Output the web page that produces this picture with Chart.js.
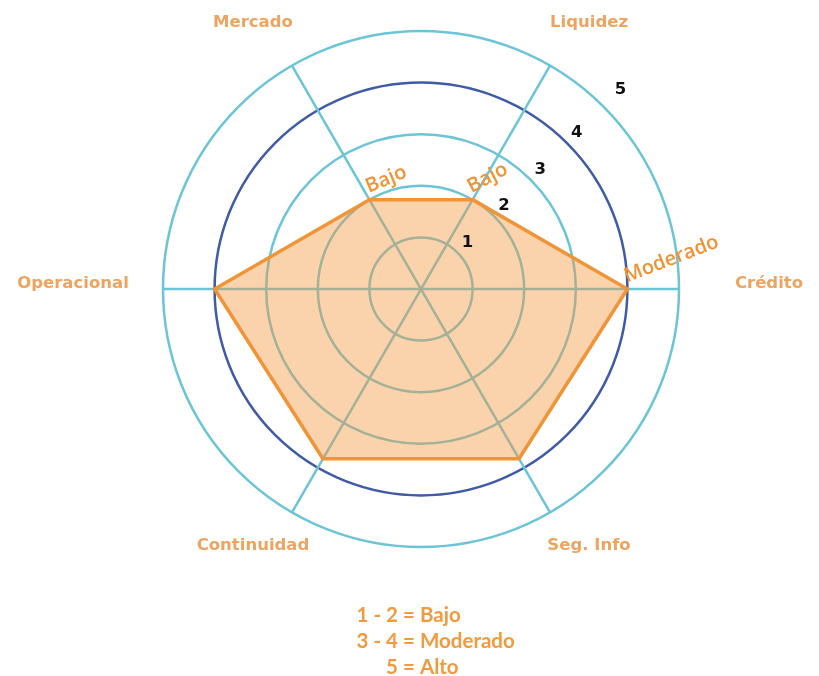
<!DOCTYPE html>
<html>
<head>
<meta charset="utf-8">
<script src="https://cdn.jsdelivr.net/npm/chart.js@4.4.0/dist/chart.umd.min.js"></script>
<style>
  html, body { margin: 0; padding: 0; background: #fff; }
  #wrap { position: relative; width: 819px; height: 676px; }
  #legend { position: absolute; left: 282px; top: 601px; font-family: Lato, sans-serif; font-weight: bold; font-size: 20.5px; line-height: 26px; color: #f39a3e; }
  #legend .l { display: inline-block; width: 116px; text-align: right; }
  #legend .m { display: inline-block; width: 22px; text-align: center; }
</style>
</head>
<body>
<div id="wrap">
  <canvas id="chart"></canvas>
  <div id="legend"></div>
</div>
<script>
// axes, clockwise from the upper right
const labels = ["Liquidez", "Crédito", "Seg. Info", "Continuidad", "Operacional", "Mercado"];
const values = [2, 4, 3.8, 3.8, 4, 2];
// notes written next to some of the points
const pointNotes = ["Bajo", "Moderado", "", "", "", "Bajo"];
const noteTilt = [-28, -21, 0, 0, 0, -23];
const tickValues = [1, 2, 3, 4, 5];
// key under the chart
const legendRanges = ["1 - 2", "3 - 4", "5"];
const legendLevels = ["Bajo", "Moderado", "Alto"];

const teal = "#6cc4d7";
const darkBlue = "#3f5ba6";
const orange = "#ef9437";

// build the key
const legendBox = document.getElementById("legend");
legendRanges.forEach((range, i) => {
    const row = document.createElement("div");
    row.innerHTML = `<span class="l">${range}</span><span class="m">=</span><span>${legendLevels[i]}</span>`;
    legendBox.appendChild(row);
});

// draws axis names, tick numbers and point notes
const overlay = {
    id: "overlay",
    afterDatasetsDraw(chart) {
        const scale = chart.scales.r;
        const ctx = chart.ctx;
        const R = scale.drawingArea;
        ctx.save();
        ctx.textAlign = "center";
        ctx.textBaseline = "middle";

        // axis names
        ctx.font = 'bold 16.5px "DejaVu Sans"';
        ctx.fillStyle = "#eea461";
        labels.forEach((name, i) => {
            const edge = scale.getPointPosition(i, R);
            let x, y;
            if (Math.abs(edge.y - scale.yCenter) < 1) {
                const p = scale.getPointPosition(i, R + 90);
                x = p.x; y = p.y - 5;
            } else {
                const p = scale.getPointPosition(i, R + 44);
                x = p.x + Math.sign(p.x - scale.xCenter) * 17;
                y = p.y - 5;
            }
            ctx.fillText(name, x, y);
        });

        // tick numbers along a diagonal
        ctx.font = 'bold 16.5px "DejaVu Sans"';
        ctx.fillStyle = "#111";
        const a = 45 * Math.PI / 180;
        tickValues.forEach(v => {
            const extra = v === 5 ? 24 : 14;
            const d = scale.getDistanceFromCenterForValue(v) + extra;
            ctx.fillText(String(v), scale.xCenter + d * Math.cos(a), scale.yCenter - d * Math.sin(a));
        });

        // notes on the points
        const meta = chart.getDatasetMeta(0);
        ctx.font = '600 20px "Open Sans"';
        ctx.fillStyle = "#f39232";
        ctx.textAlign = "left";
        ctx.textBaseline = "bottom";
        pointNotes.forEach((txt, i) => {
            if (!txt) return;
            const pt = meta.data[i];
            ctx.save();
            ctx.translate(pt.x, pt.y);
            ctx.rotate(noteTilt[i] * Math.PI / 180);
            ctx.fillText(txt, 2, -2);
            ctx.restore();
        });
        ctx.restore();
    }
};

window.ctx = document.getElementById("chart");
window.chart = new Chart(ctx, {
    type: "radar",
    data: {
        labels,
        datasets: [{
            data: values,
            fill: true,
            backgroundColor: "rgba(243, 150, 60, 0.42)",
            borderColor: orange,
            borderWidth: 3.5,
            pointRadius: 0
        }]
    },
    options: {
        responsive: true,
        maintainAspectRatio: false,
        animation: false,
        layout: { padding: { left: 163, right: 140, top: 31, bottom: 129 } },
        plugins: { legend: { display: false }, tooltip: { enabled: false } },
        scales: {
            r: {
                min: 0,
                max: 5,
                startAngle: 30,
                ticks: { display: false, stepSize: 1 },
                pointLabels: { display: false },
                grid: {
                    circular: true,
                    lineWidth: 2.5,
                    color: c => (c.tick && c.tick.value === 4) ? darkBlue : teal
                },
                angleLines: { color: teal, lineWidth: 2.5 }
            }
        }
    },
    plugins: [overlay]
});
</script>
</body>
</html>
